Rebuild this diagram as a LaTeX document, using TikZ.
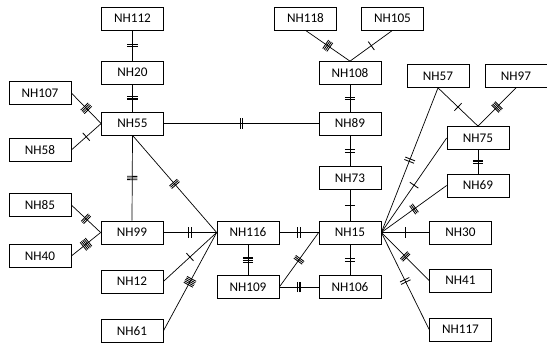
\documentclass[tikz,border=0pt]{standalone}
\usepackage{fontspec}
\setmainfont{Carlito}
\usetikzlibrary{decorations.markings}

\tikzset{
	tk/.style={postaction={decorate,decoration={markings,
		mark=at position 0.5 with {\foreach \k in {1,...,#1}
			\draw[line width=0.6pt] ({(\k-(#1+1)/2)*(#1<3 ? 0.65 : 0.42)*1mm},-1.3mm) -- ++(0,2.6mm);}}}},
}

\begin{document}
\begin{tikzpicture}[
			x=0.25mm, y=-0.25mm,
			box/.style = {draw, rectangle, minimum width=15.5mm, minimum height=5.75mm, inner sep=0pt,
				font=\fontsize{9.4pt}{11pt}\selectfont},
			every path/.style={line width=0.5pt},
			]
			\useasboundingbox (0,0) rectangle (547,343);
			% left part
			\node[box] (nh112) at (132.5,18.5) {NH112};
			\node[box] (nh20) at (132.5,72.5) {NH20};
			\node[box] (nh107) at (40,93) {NH107};
			\node[box] (nh55) at (132.5,123.5) {NH55};
			\node[box] (nh58) at (40,150) {NH58};
			\node[box] (nh85) at (40,205) {NH85};
			\node[box] (nh40) at (40,256) {NH40};
			\node[box] (nh99) at (132,232.5) {NH99};
			\node[box] (nh12) at (132,281.5) {NH12};
			\node[box] (nh61) at (132,331) {NH61};
			\node[box] (nh116) at (248,232.5) {NH116};
			\node[box] (nh109) at (248,287) {NH109};
			% middle part
			\node[box] (nh118) at (305.5,18.5) {NH118};
			\node[box] (nh105) at (392.5,18.5) {NH105};
			\node[box] (nh108) at (350,73) {NH108};
			\node[box] (nh89) at (350,123.5) {NH89};
			\node[box] (nh73) at (350,178) {NH73};
			\node[box] (nh15) at (350,232.5) {NH15};
			\node[box] (nh106) at (350,287) {NH106};
			% right part
			\node[box] (nh57) at (438,76) {NH57};
			\node[box] (nh97) at (516,76) {NH97};
			\node[box] (nh75) at (478,138) {NH75};
			\node[box] (nh69) at (478,185.5) {NH69};
			\node[box] (nh30) at (460.5,232.5) {NH30};
			\node[box] (nh41) at (460.5,280.5) {NH41};
			\node[box] (nh117) at (460.5,329.5) {NH117};

			\draw[tk=2] (nh112) -- (nh20);
			\draw[tk=3] (nh20) -- (nh55);
			\draw[tk=4] (nh107.east) -- (nh55.west);
			\draw[tk=1] (nh58.east) -- (nh55.west);
			\draw[tk=2] (nh55) -- (nh89);
			\draw[tk=3] (nh55.south) -- (nh99.north);
			\draw[tk=3] (nh55.south) -- (nh116.west);
			\draw[tk=3] (nh85.east) -- (nh99.west);
			\draw[tk=5] (nh40.east) -- (nh99.west);
			\draw[tk=2] (nh99) -- (nh116);
			\draw[tk=1] (nh12.east) -- (nh116.west);
			\draw[tk=5] (nh61.east) -- (nh116.west);
			\draw[tk=4] (nh116) -- (nh109);
			\draw[tk=2] (nh116) -- (nh15);
			\draw[tk=3] (nh109) -- (nh106);
			\draw[tk=3] (nh109.east) -- (nh15.west);
			\draw[tk=4] (nh118.south) -- (nh108.north);
			\draw[tk=1] (nh105.south) -- (nh108.north);
			\draw[tk=2] (nh108) -- (nh89);
			\draw[tk=2] (nh89) -- (nh73);
			\draw[tk=1] (nh73) -- (nh15);
			\draw[tk=2] (nh15) -- (nh106);
			\draw[tk=1] (nh57.south) -- (nh75.north);
			\draw[tk=4] (nh97.south) -- (nh75.north);
			\draw[tk=3] (nh75) -- (nh69);
			\draw[tk=2] (nh57.south) -- (nh15.east);
			\draw[tk=1] (nh75.west) -- (nh15.east);
			\draw[tk=3] (nh69.west) -- (nh15.east);
			\draw[tk=1] (nh15) -- (nh30);
			\draw[tk=3] (nh15.east) -- (nh41.west);
			\draw[tk=2] (nh15.east) -- (nh117.west);
		\end{tikzpicture}
\end{document}
